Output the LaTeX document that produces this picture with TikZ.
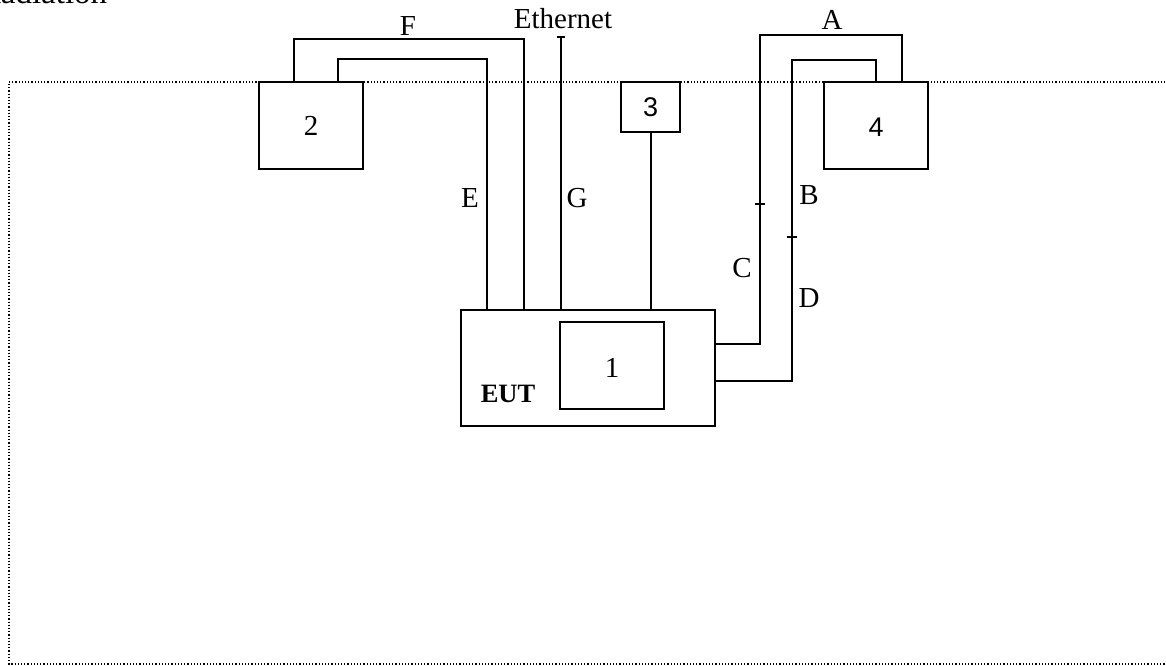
\documentclass[tikz,border=0pt]{standalone}
\usepackage{fontspec}
\setmainfont{Liberation Serif}
\newfontfamily\sansf{Liberation Sans}
\begin{document}
\begin{tikzpicture}[x=1pt,y=-1pt, line width=1.6pt,
 box/.style={draw, rectangle, inner sep=0pt, line width=1.6pt},
 lbl/.style={font=\fontsize{29}{32}\selectfont, inner sep=0pt},
 frame/.style={dotted, line width=1.2pt}]
\useasboundingbox (0,0) rectangle (1166,665);
\clip (0,0) rectangle (1166,665);
\draw[frame] (1175,82) -- (9,82) -- (9,664) -- (1175,664);
\node[lbl, font=\fontsize{33}{36}\selectfont, anchor=base east] (rad) at (108,3) {Radiation};
% boxes
\node[box, minimum width=104, minimum height=87] (b2) at (311,125.5) {};
\node[box, minimum width=59, minimum height=50] (b3) at (650.5,107) {};
\node[box, minimum width=104, minimum height=87] (b4) at (876,125.5) {};
\node[box, minimum width=254, minimum height=116] (eut) at (588,368) {};
\node[box, minimum width=104, minimum height=87] (b1) at (612,365.5) {};
% wires
\coordinate (ftop) at (524,39);
\coordinate (etop) at (487,59);
\coordinate (eth) at (561,37);
\coordinate (atop) at (760,35);
\coordinate (btop) at (792,60);
\draw (b2.north west -| 294,0) |- (ftop) -- (ftop |- eut.north);
\draw (b2.north west -| 338,0) |- (etop) -- (etop |- eut.north);
\draw (eth) -- (eth |- eut.north);
\draw ([xshift=-4pt]eth) -- ([xshift=4pt]eth);
\draw (b3.south -| 651,0) -- (651,0 |- eut.north);
\draw (eut.east |- 0,344) -| (atop) -| (b4.north west -| 902,0);
\draw (eut.east |- 0,381) -| (btop) -| (b4.north west -| 876,0);
\draw (755,204) -- (765,204);
\draw (787,237) -- (797,237);
% labels
\node[lbl] (lf) at (408,26) {F};
\node[lbl] (leth) at (563,19) {Ethernet};
\node[lbl] (la) at (832,20) {A};
\node[lbl] (le) at (470,198) {E};
\node[lbl] (lg) at (577,198) {G};
\node[lbl] (lb) at (809,195) {B};
\node[lbl] (lc) at (742,268) {C};
\node[lbl] (ld) at (809,298) {D};
\node[lbl] (l1) at (612,368) {1};
\node[lbl, font=\fontsize{26.5}{28}\selectfont\bfseries] (leut) at (508,394) {EUT};
\node[lbl] (l2) at (311,125.5) {2};
\node[lbl, font=\fontsize{27}{29}\selectfont\sansf] (l3) at (650.5,107) {3};
\node[lbl, font=\fontsize{27}{29}\selectfont\sansf] (l4) at (876,127) {4};
\end{tikzpicture}
\end{document}
